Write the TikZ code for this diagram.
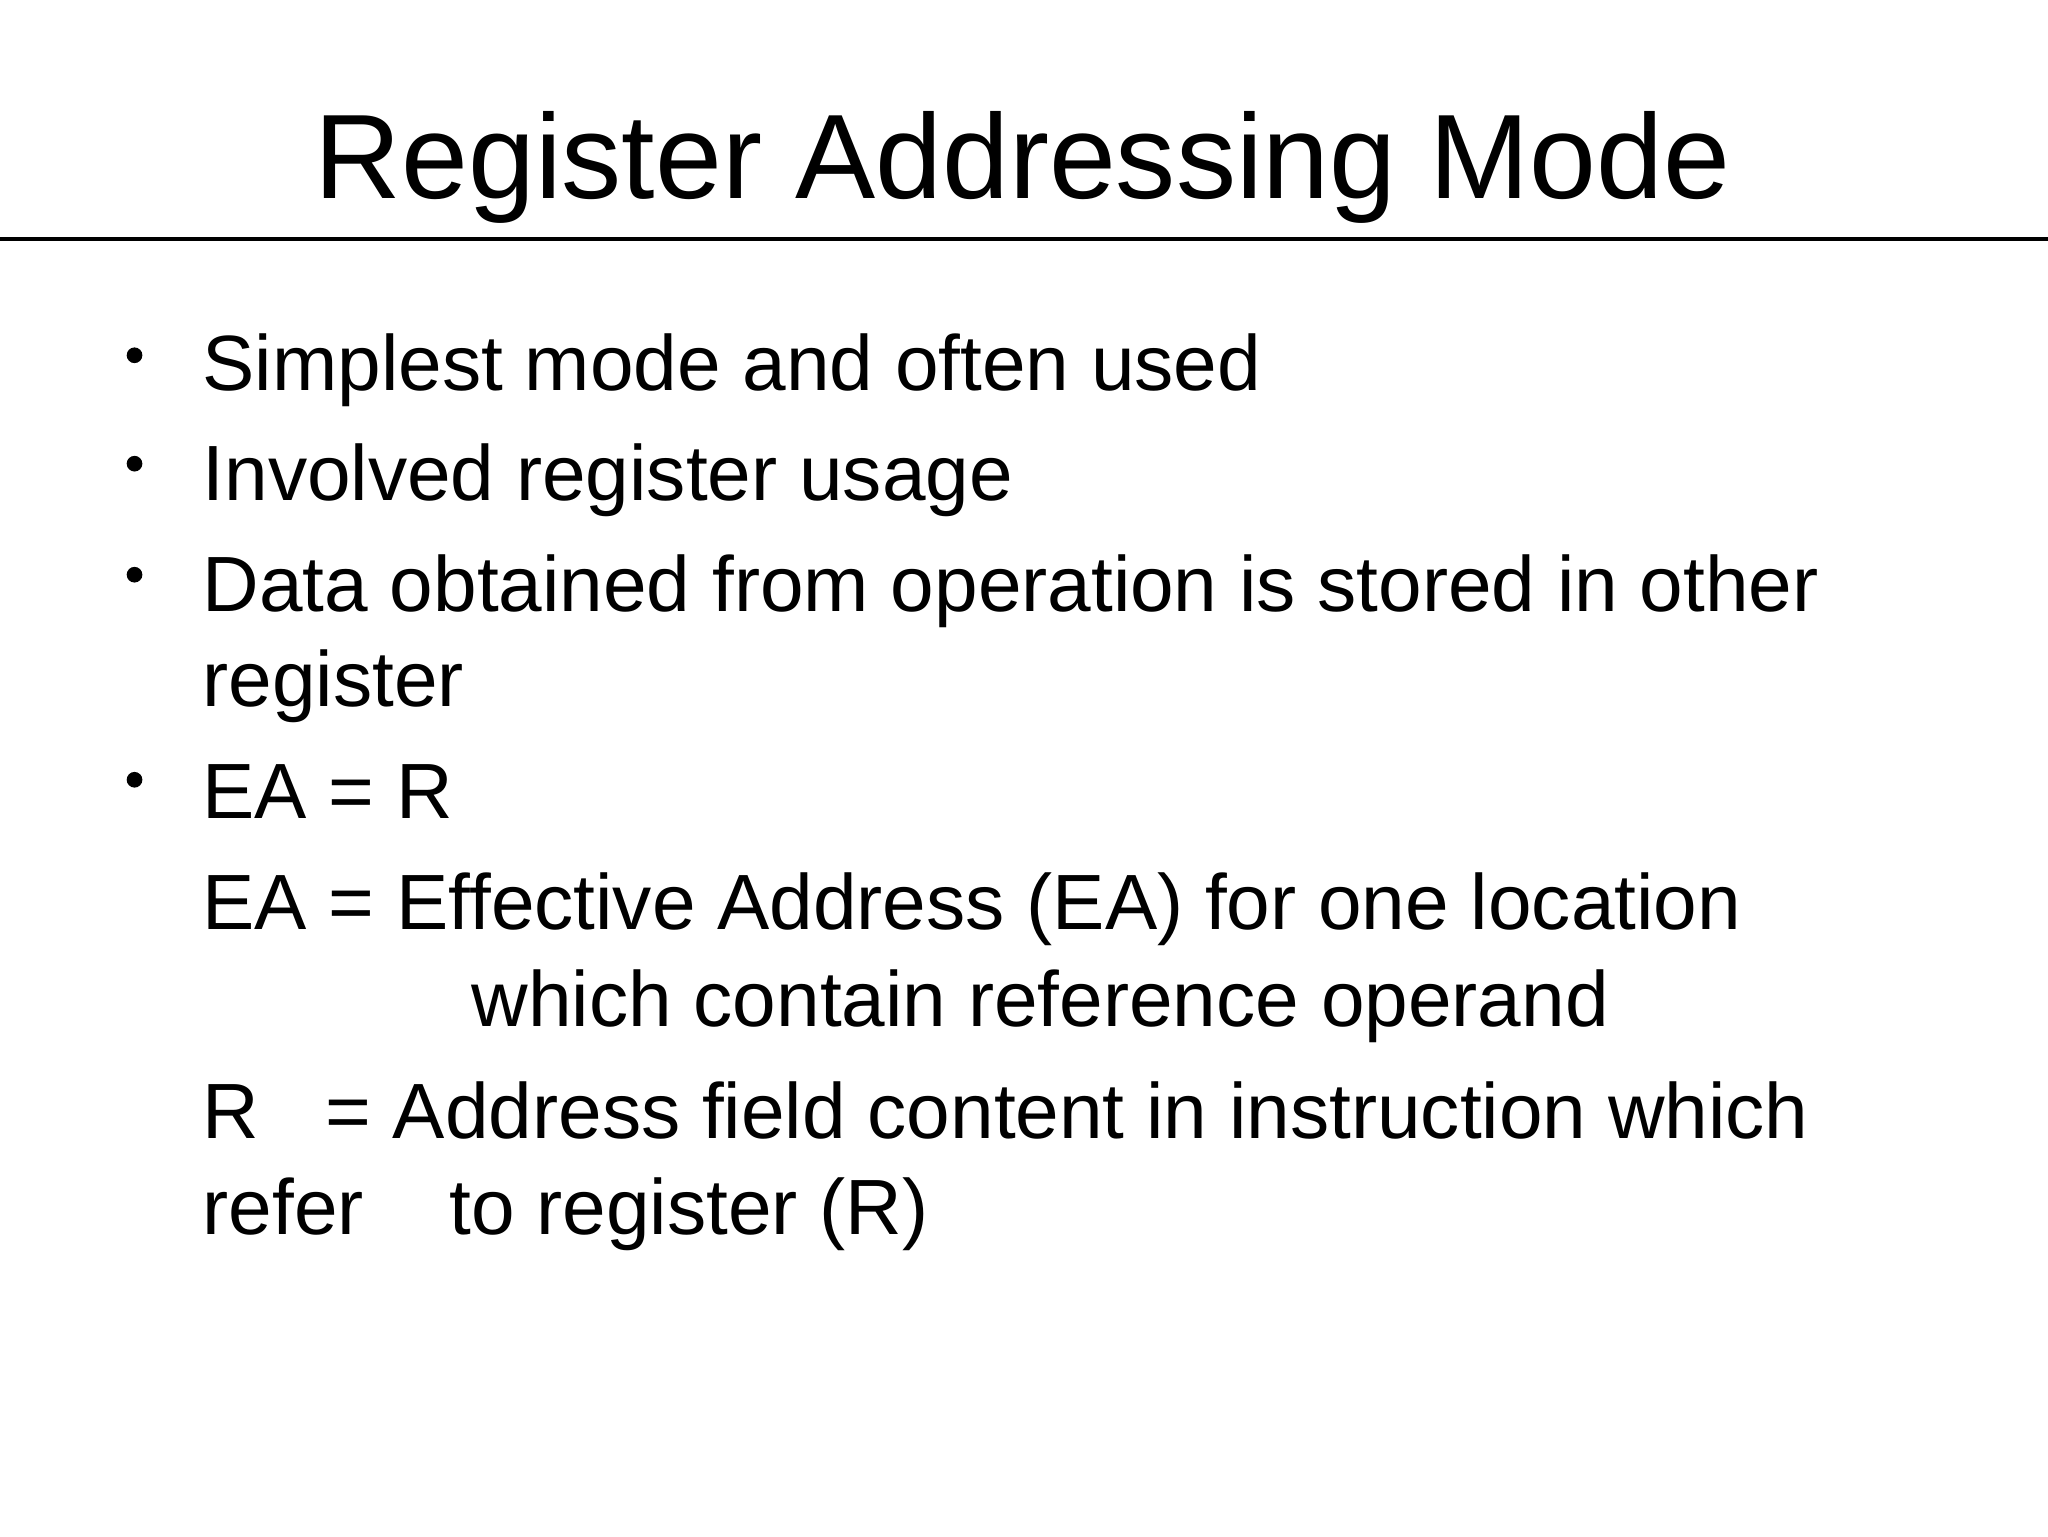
\documentclass[tikz,border=0pt]{standalone}
\usepackage{fontspec}
\setmainfont{Liberation Sans}
\begin{document}
\begin{tikzpicture}[x=1pt,y=-1pt,
  txt/.style={anchor=base west,inner sep=0pt,font=\fontsize{60}{72}\selectfont},
  bul/.style={fill=black,circle,inner sep=0pt,minimum size=12pt}]
\useasboundingbox (0,0) rectangle (1568,1176);
\node[anchor=base,inner sep=0pt,font=\fontsize{92}{110}\selectfont] (title) at (783,152) {Register Addressing Mode};
\coordinate (rl) at (0,183); \coordinate (rr) at (1568,183);
\draw[line width=3pt] (rl) -- (rr);
\node[bul] (b1) at (103,272) {};
\node[bul] (b2) at (103,355) {};
\node[bul] (b3) at (103,440) {};
\node[bul] (b4) at (103,597) {};
\node[txt] (t1) at (155,299) {Simplest mode and often used};
\node[txt] (t2) at (155,383) {Involved register usage};
\node[txt] (t3) at (155,468) {Data obtained from operation is stored in other};
\node[txt] (t4) at (155,541) {register};
\node[txt] (t5) at (155,627) {EA = R};
\node[txt] (t6) at (155,712) {EA = Effective Address (EA) for one location};
\node[txt] (t7) at (361,786) {which contain reference operand};
\node[txt] (t8) at (155,872) {R};
\node[txt] (t8b) at (249,872) {= Address field content in instruction which};
\node[txt] (t9) at (155,945) {refer};
\node[txt] (t9b) at (344,945) {to register (R)};
\end{tikzpicture}
\end{document}
